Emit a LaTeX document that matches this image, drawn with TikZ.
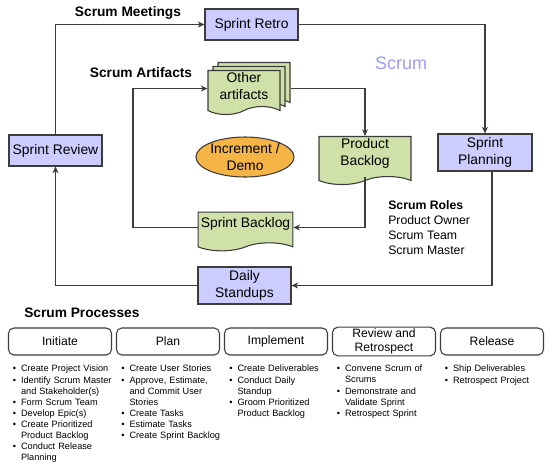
\documentclass[tikz,border=0pt]{standalone}
\usepackage{fontspec}
\setmainfont{Liberation Sans}
\usetikzlibrary{shapes.geometric,shapes.symbols,shadows,arrows.meta}

\definecolor{meetfill}{HTML}{CCCCFF}
\definecolor{artfill}{HTML}{CFE0A8}
\definecolor{incfill}{HTML}{F5B446}
\definecolor{scrumblue}{HTML}{9A9AFF}
\definecolor{linegray}{HTML}{3C3C3C}

\newcommand{\bul}[1]{\leftskip=6.2pt\noindent\hskip-6.2pt\makebox[6.2pt][l]{\textbullet}#1\par}
\newcommand{\brk}{\hfil\break}

\begin{document}
\begin{tikzpicture}[x=0.75pt,y=0.75pt,yscale=-1,
  meeting/.style={draw=linegray, fill=meetfill, line width=0.8pt, inner sep=1.5pt, align=center, font=\fontsize{10.4}{12.5}\selectfont},
  artifact/.style={tape, tape bend top=none, tape bend bottom=in and out, tape bend height=6pt, draw=linegray, fill=artfill, line width=0.8pt, inner sep=1.5pt, text depth=7pt, align=center, font=\fontsize{10.4}{12.5}\selectfont},
  phase/.style={draw=linegray, rounded corners=4pt, fill=white, line width=0.8pt, minimum width=77.25pt, minimum height=20.25pt, inner sep=1pt, align=center, font=\fontsize{9.1}{11}\selectfont},
  heading/.style={font=\bfseries\fontsize{10.3}{12}\selectfont, inner sep=0pt},
  tasklist/.style={anchor=north west, inner sep=0pt, text width=82pt, align=left, font=\fontsize{6.9}{8.3}\selectfont},
  flow/.style={draw=linegray, line width=0.8pt, -{Stealth[length=5pt,width=4.5pt]}}]
\useasboundingbox (0,0) rectangle (550,465);

%Scrum meetings
\node[meeting, minimum width=69.75pt, minimum height=23.25pt] (retro) at (251.5,24.5) {Sprint Retro};
\node[meeting, minimum width=70.5pt, minimum height=27.75pt] (planning) at (485,152.5) {Sprint\\Planning};
\node[meeting, minimum width=69.75pt, minimum height=23.25pt] (review) at (55.5,150.5) {Sprint Review};
\node[meeting, minimum width=69.75pt, minimum height=27.75pt] (standups) at (244.5,285.5) {Daily\\Standups};

%Scrum artifacts
\node[artifact, double copy shadow={shadow xshift=3.75pt, shadow yshift=3pt}, minimum width=54pt, minimum height=26pt, text depth=4pt] (other) at (244,88.5) {Other\\artifacts};
\node[artifact, minimum width=69pt, minimum height=35pt] (pbacklog) at (365,156.5) {Product\\Backlog};
\node[artifact, minimum width=71pt, minimum height=29pt] (sbacklog) at (245.5,227.5) {Sprint Backlog};
\node[ellipse, draw=linegray, fill=incfill, line width=0.8pt, minimum width=63pt, minimum height=30pt, inner sep=0pt, align=center, font=\fontsize{10.4}{12.5}\selectfont] (increment) at (245,157) {Increment /\\Demo};
\coordinate (artloop) at (133,88.5);

%Connectors
\draw[flow] (review.north) |- (retro.west);
\draw[flow] (retro.east) -| (planning.north);
\draw[flow] ([xshift=5.25pt]planning.south) |- (standups.east);
\draw[flow] (standups.west) -| (review.south);
\draw[flow] (sbacklog.west) -| (artloop) |- (other.west);
\draw[flow] ([xshift=7.5pt]other.east) -| (pbacklog.north);
\draw[flow] (pbacklog.south) |- (sbacklog.east);

% Text Node
\node[heading] (meetings) at (128,12.5) {Scrum Meetings};
\node[heading] (artifacts) at (141,72.5) {Scrum Artifacts};
\node[heading, anchor=west] (processes) at (24,313) {Scrum Processes};
\node[inner sep=0pt, text=scrumblue, font=\fontsize{13.5}{16}\selectfont] (scrum) at (401,63) {Scrum};
\node[anchor=north west, inner sep=0pt, align=left, font=\fontsize{9.2}{11.1}\selectfont] (roles) at (388,200.5) {\textbf{Scrum Roles}\\Product Owner\\Scrum Team\\Scrum Master};

%Scrum processes
\node[phase] (initiate) at (60,341.5) {Initiate};
\node[phase] (plan) at (168,341.5) {Plan};
\node[phase] (implement) at (276,341.5) {Implement};
\node[phase] (retrospect) at (384,341.5) {Review and\\Retrospect};
\node[phase] (release) at (492,341.5) {Release};

\node[tasklist] (initiatelist) at (12.5,365) {\bul{Create Project Vision}\bul{Identify Scrum Master\brk and Stakeholder(s)}\bul{Form Scrum Team}\bul{Develop Epic(s)}\bul{Create Prioritized\brk Product Backlog}\bul{Conduct Release\brk Planning}};
\node[tasklist] (planlist) at (121,365) {\bul{Create User Stories}\bul{Approve, Estimate,\brk and Commit User\brk Stories}\bul{Create Tasks}\bul{Estimate Tasks}\bul{Create Sprint Backlog}};
\node[tasklist] (implementlist) at (229,365) {\bul{Create Deliverables}\bul{Conduct Daily\brk Standup}\bul{Groom Prioritized\brk Product Backlog}};
\node[tasklist] (retrospectlist) at (336.5,365) {\bul{Convene Scrum of\brk Scrums}\bul{Demonstrate and\brk Validate Sprint}\bul{Retrospect Sprint}};
\node[tasklist] (releaselist) at (444.5,365) {\bul{Ship Deliverables}\bul{Retrospect Project}};

\end{tikzpicture}
\end{document}
